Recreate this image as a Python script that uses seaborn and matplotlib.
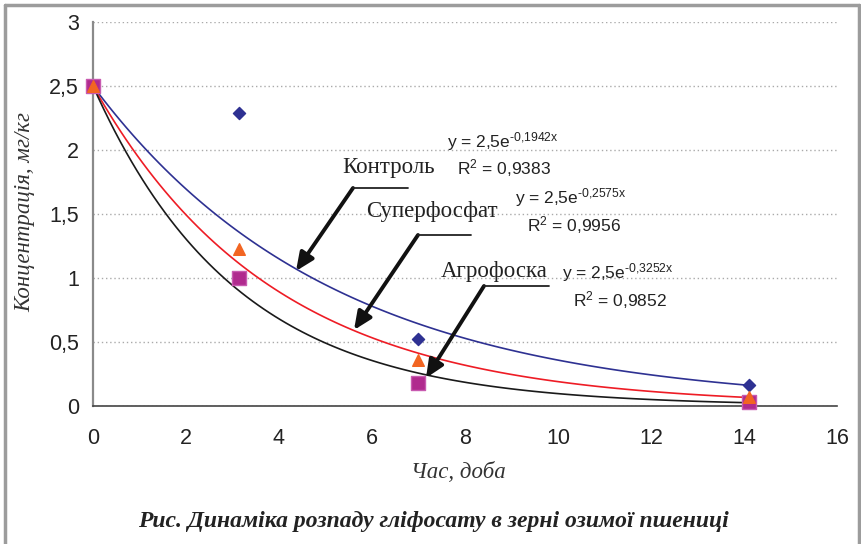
import numpy as np
import pandas as pd
import matplotlib
matplotlib.use("Agg")
import matplotlib.pyplot as plt
from matplotlib.lines import Line2D
from matplotlib.ticker import FuncFormatter, MultipleLocator
import seaborn as sns

# data
days = [0, 3.13, 7.0, 14.1]
kontrol = [2.5, 2.29, 0.52, 0.164]
superfosfat = [2.5, 1.23, 0.36, 0.07]
agrofoska = [2.5, 1.0, 0.18, 0.03]

series_names = ["Контроль", "Суперфосфат", "Агрофоска"]
trend_a = [2.5, 2.5, 2.5]
trend_k = [0.1942, 0.2575, 0.3252]
r2 = ["0,9383", "0,9956", "0,9852"]

sns.set_theme(style="white")
plt.rcParams['font.family'] = ['Liberation Sans', 'DejaVu Sans']
plt.rcParams['mathtext.fontset'] = 'custom'
plt.rcParams['mathtext.rm'] = 'Liberation Sans'
plt.rcParams['mathtext.default'] = 'regular'

W, H = 862, 544
fig = plt.figure(figsize=(W / 100, H / 100), dpi=100)
ax = fig.add_axes([93 / W, 1 - 406 / H, (837 - 93) / W, (406 - 22) / H])


def fp(x, y):
    # pixel position -> figure fraction
    return (x / W, 1 - y / H)


points = pd.DataFrame({
    "day": days * 3,
    "conc": kontrol + superfosfat + agrofoska,
    "series": [s for s in series_names for _ in days],
})

line_colors = {"Контроль": "#2E3192", "Суперфосфат": "#EE1C25", "Агрофоска": "#1A1A1A"}
mark_colors = {"Контроль": "#2E3192", "Суперфосфат": "#F26522", "Агрофоска": "#B02A8E"}
mark_edges = {"Контроль": "#2E3192", "Суперфосфат": "#F26522", "Агрофоска": "#C85AB0"}
markers = {"Контроль": "D", "Суперфосфат": "^", "Агрофоска": "s"}
sizes = {"Контроль": 38, "Суперфосфат": 70, "Агрофоска": 95}
zorders = {"Контроль": 3, "Суперфосфат": 5, "Агрофоска": 4}

# exponential trendlines from the fitted coefficients shown on the chart
for name, a, k in zip(series_names, trend_a, trend_k):
    xs = np.linspace(min(days), max(days), 120)
    trend = pd.DataFrame({"day": xs, "conc": a * np.exp(-k * xs)})
    sns.lineplot(data=trend, x="day", y="conc", color=line_colors[name],
                 linewidth=1.2, ax=ax, zorder=2)

for name in series_names:
    sub = points[points["series"] == name]
    sns.scatterplot(data=sub, x="day", y="conc", marker=markers[name],
                    color=mark_colors[name], edgecolor=mark_edges[name],
                    linewidth=1, s=sizes[name], ax=ax, zorder=zorders[name],
                    legend=False, clip_on=False)

ax.set_xlim(0, 16)
ax.set_ylim(0, 3)
ax.xaxis.set_major_locator(MultipleLocator(2))
ax.yaxis.set_major_locator(MultipleLocator(0.5))
ax.yaxis.set_major_formatter(FuncFormatter(lambda v, p: f"{v:g}".replace(".", ",")))
ax.set_xlabel("")
ax.set_ylabel("")
ax.tick_params(axis="both", labelsize=15.5, colors="#222222", length=5, width=1)
ax.tick_params(axis="y", color="#808080", pad=5)
ax.tick_params(axis="x", color="#444444", pad=11)
ax.yaxis.grid(True, color="#aaaaaa", linestyle=(0, (1, 2)), linewidth=1)
ax.set_axisbelow(True)
for s in ["top", "right"]:
    ax.spines[s].set_visible(False)
ax.spines["left"].set_color("#8a8a8a")
ax.spines["left"].set_linewidth(1.6)
ax.spines["bottom"].set_color("#444444")
ax.spines["bottom"].set_linewidth(1.2)

# axis titles and caption
serif = ['Liberation Serif', 'DejaVu Serif']
fig.text(*fp(25, 212), "Концентрація, мг/кг", rotation=90, ha="center", va="center",
         family=serif, style="italic", fontsize=16.5, color="#333333")
fig.text(*fp(458, 473), "Час, доба", ha="center", va="center",
         family=serif, style="italic", fontsize=16.5, color="#333333")
fig.text(*fp(433, 522), "Рис. Динаміка розпаду гліфосату в зерні озимої пшениці",
         ha="center", va="center", family=serif, style="italic", weight="bold",
         fontsize=17, color="#222222")

# series labels with leader arrows
labels_pos = [(389, 168), (432, 212), (494, 272)]
shelves = [((353, 188), (408, 188)), ((418, 235), (471, 235)), ((484, 286), (549, 286))]
tips = [(296, 271), (354, 330), (426, 378)]
for name, lp, (s0, s1), tip in zip(series_names, labels_pos, shelves, tips):
    fig.text(*fp(*lp), name, ha="center", va="center", family=serif,
             fontsize=16.5, color="#222222")
    fig.add_artist(Line2D([s0[0] / W, s1[0] / W], [1 - s0[1] / H, 1 - s1[1] / H],
                          transform=fig.transFigure, color="#222222", linewidth=1.3))
    ax.annotate("", xy=fp(*tip), xycoords="figure fraction",
                xytext=fp(*s0), textcoords="figure fraction",
                arrowprops=dict(arrowstyle="-|>,head_length=0.9,head_width=0.4",
                                color="#111111", linewidth=2.8, shrinkA=0, shrinkB=0))

# trendline equations
eq_pos = [((447, 142), (457, 168)), ((515, 198), (527, 225)), ((562, 273), (573, 300))]
for k, r, (ep, rp) in zip(trend_k, r2, eq_pos):
    ks = f"{k:.4f}".replace(".", ",")
    fig.text(*fp(*ep), f"y = 2,5e$^{{\\text{{-{ks}x}}}}$", ha="left", va="center",
             fontsize=12.5, color="#222222")
    fig.text(*fp(*rp), f"R$^{{2}}$ = {r}", ha="left", va="center",
             fontsize=12.5, color="#222222")

# gray frame of the scanned figure
frame = "#9c9c9c"
fig.add_artist(Line2D([5 / W, 5 / W], [0, 1 - 5 / H], transform=fig.transFigure,
                      color=frame, linewidth=2.5))
fig.add_artist(Line2D([5 / W, 859.5 / W], [1 - 5 / H, 1 - 5 / H], transform=fig.transFigure,
                      color=frame, linewidth=2.5))
fig.add_artist(Line2D([859.5 / W, 859.5 / W], [1 - 5 / H, 0], transform=fig.transFigure,
                      color=frame, linewidth=2.5))

fig.savefig("out.png", dpi=100)
